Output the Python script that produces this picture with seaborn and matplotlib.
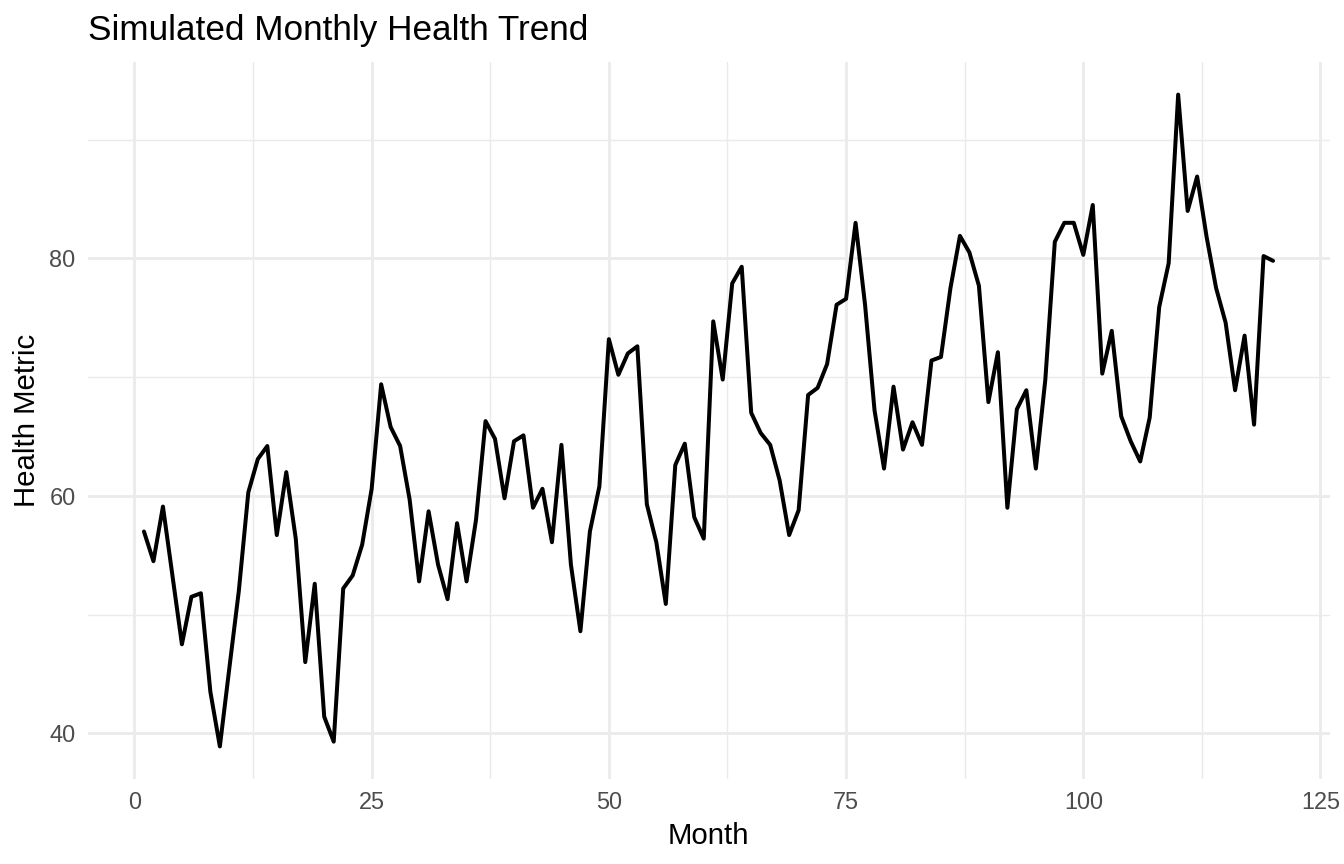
import numpy as np
import pandas as pd
import matplotlib
matplotlib.use("Agg")
import matplotlib.pyplot as plt
import seaborn as sns
from matplotlib.ticker import MultipleLocator

months = list(range(1, 121))
health = [
    57.0, 54.5, 59.1, 53.3, 47.5, 51.5, 51.8, 43.5, 38.9, 45.5,
    52.0, 60.3, 63.1, 64.2, 56.7, 62.0, 56.4, 46.0, 52.6, 41.4,
    39.3, 52.2, 53.3, 55.9, 60.6, 69.4, 65.8, 64.2, 59.7, 52.8,
    58.7, 54.2, 51.3, 57.7, 52.8, 58.0, 66.3, 64.8, 59.8, 64.6,
    65.1, 59.0, 60.6, 56.1, 64.3, 54.2, 48.6, 57.0, 60.8, 73.2,
    70.2, 72.0, 72.6, 59.3, 56.1, 50.9, 62.6, 64.4, 58.2, 56.4,
    74.7, 69.8, 77.9, 79.3, 67.0, 65.3, 64.3, 61.3, 56.7, 58.8,
    68.5, 69.1, 71.1, 76.1, 76.6, 83.0, 76.1, 67.2, 62.3, 69.2,
    63.9, 66.2, 64.3, 71.4, 71.7, 77.5, 81.9, 80.5, 77.7, 67.9,
    72.1, 59.0, 67.3, 68.9, 62.3, 69.8, 81.4, 83.0, 83.0, 80.3,
    84.5, 70.3, 73.9, 66.7, 64.6, 62.9, 66.6, 75.9, 79.6, 93.8,
    84.0, 86.9, 81.8, 77.5, 74.6, 68.9, 73.5, 66.0, 80.2, 79.8,
]
title = "Simulated Monthly Health Trend"
x_label = "Month"
y_label = "Health Metric"

df = pd.DataFrame({"Month": months, "Health": health})

sns.set_theme(style="white")
plt.rcParams["font.family"] = ["Liberation Sans", "DejaVu Sans"]

fig = plt.figure(figsize=(7, 4.5), dpi=192)
ax = fig.add_axes([87.5 / 1344, 1 - 779 / 864, (1329.5 - 87.5) / 1344, (779 - 62) / 864])

sns.lineplot(data=df, x="Month", y="Health", ax=ax, color="black", linewidth=1.5)

xr = max(months) - min(months)
yr = max(health) - min(health)
ax.set_xlim(min(months) - 0.05 * xr, max(months) + 0.05 * xr)
ax.set_ylim(min(health) - 0.05 * yr, max(health) + 0.05 * yr)

ax.xaxis.set_major_locator(MultipleLocator(25))
ax.xaxis.set_minor_locator(MultipleLocator(12.5))
ax.yaxis.set_major_locator(MultipleLocator(20))
ax.yaxis.set_minor_locator(MultipleLocator(10))

ax.grid(which="major", color="#EBEBEB", linewidth=1.07)
ax.grid(which="minor", color="#EBEBEB", linewidth=0.53)
ax.set_axisbelow(True)
for s in ax.spines.values():
    s.set_visible(False)

ax.tick_params(which="both", length=0)
ax.tick_params(axis="x", labelsize=8.8, labelcolor="#4D4D4D", pad=4.5)
ax.tick_params(axis="y", labelsize=8.8, labelcolor="#4D4D4D", pad=4.5)

ax.set_xlabel(x_label, fontsize=11, color="black", labelpad=3)
ax.set_ylabel(y_label, fontsize=11, color="black", labelpad=3)
ax.set_title(title, loc="left", fontsize=13.2, color="black", pad=8.2)

fig.savefig("out.png", dpi=192, facecolor="white")
